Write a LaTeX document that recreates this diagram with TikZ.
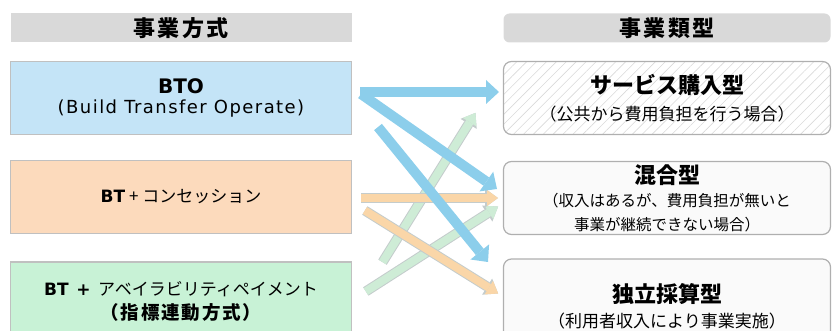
\documentclass[tikz,border=0pt]{standalone}
\usepackage{fontspec}
\setmainfont{Noto Sans CJK JP}
\newfontfamily\latinfont{DejaVu Sans}
\newfontfamily\widelatin[LetterSpace=8]{DejaVu Sans}
\newfontfamily\widecjk[LetterSpace=10]{Noto Sans CJK JP}
\usetikzlibrary{arrows.meta,patterns.meta}

\definecolor{hdrgray}{RGB}{217,217,217}
\definecolor{edgegray}{RGB}{192,192,192}
\definecolor{rimgray}{RGB}{175,175,175}
\definecolor{boxblue}{RGB}{196,228,247}
\definecolor{boxorange}{RGB}{252,218,188}
\definecolor{boxgreen}{RGB}{200,242,214}
\definecolor{arrowblue}{RGB}{140,206,235}
\definecolor{arroworange}{RGB}{250,214,168}
\definecolor{arrowgreen}{RGB}{206,236,214}
\definecolor{arrowrim}{RGB}{196,204,204}

\tikzset{
  header/.style={fill=hdrgray, minimum width=341pt, minimum height=29pt, inner sep=0pt,
    font=\widecjk\fontsize{22}{24}\selectfont\bfseries},
  leftbox/.style={draw=edgegray, line width=1.5pt, minimum width=341pt, minimum height=73pt,
    inner sep=0pt, align=center, font=\fontsize{17}{24}\selectfont},
  rightbox/.style={draw=rimgray, line width=1.2pt, rounded corners=8pt, fill=white,
    minimum width=327pt, minimum height=73pt, inner sep=0pt, align=center},
  bigflow/.style={draw=arrowblue, line width=10pt, -{Triangle[length=13pt,width=24pt,line width=0pt]}},
  thinflow/.style={draw=#1, line width=8pt, shorten >=1pt, shorten <=1pt,
    -{Triangle[length=11pt,width=16pt,line width=0pt]},
    preaction={draw=arrowrim, line width=10pt, -{Triangle[length=13pt,width=19pt,line width=0pt]}}},
}

\begin{document}
\begin{tikzpicture}[x=1pt,y=-1pt]
\clip (0,0) rectangle (832,331);

% headers
\node[header] (hleft) at (181,28) {事業方式};
\node[header, rounded corners=6pt, minimum width=327pt] (hright) at (667,28) {事業類型};

% business schemes
\node[leftbox, fill=boxblue, font=\fontsize{17}{20}\selectfont] (bto) at (181,98)
  {{\latinfont\fontsize{20}{20}\selectfont\bfseries BTO}\\{\widelatin\fontsize{18}{20}\selectfont (Build Transfer Operate)}};
\node[leftbox, fill=boxorange] (btc) at (181,197) {{\latinfont\bfseries BT} + コンセッション};
\node[leftbox, fill=boxgreen, minimum height=78pt] (bta) at (181,301)
  {{\latinfont\bfseries BT} \ {\latinfont\bfseries +} \ アベイラビリティペイメント\\{\widecjk\fontsize{18.5}{22}\selectfont\bfseries （指標連動方式）}};

% business types
\node[rightbox, pattern={Lines[angle=45,distance=7pt,line width=0.6pt]}, pattern color=gray!30,
  font=\fontsize{17}{27}\selectfont] (svc) at (667,98)
  {{\fontsize{22}{24}\selectfont\bfseries サービス購入型}\\（公共から費用負担を行う場合）};
\node[rightbox, fill=black!2, font=\fontsize{15.5}{23.5}\selectfont] (mix) at (667,198)
  {{\fontsize{22}{24}\selectfont\bfseries 混合型}\\（収入はあるが、費用負担が無いと\\事業が継続できない場合）};
\node[rightbox, fill=black!2, minimum height=94pt, font=\fontsize{17}{25}\selectfont] (ind) at (667,306)
  {{\fontsize{22}{24}\selectfont\bfseries 独立採算型}\\（利用者収入により事業実施）};

% arrow ends
\coordinate (b1s) at (360,92);  \coordinate (b1e) at (499,92);
\coordinate (b2s) at (361,94);  \coordinate (b2e) at (497,189);
\coordinate (b3s) at (378,127); \coordinate (b3e) at (488,262);
\coordinate (o1s) at (360,198); \coordinate (o1e) at (499,198);
\coordinate (o2s) at (364,210); \coordinate (o2e) at (499,294);
\coordinate (g1s) at (382,263); \coordinate (g1e) at (476,112);
\coordinate (g2s) at (365,292); \coordinate (g2e) at (499,206);

% arrows
\draw[thinflow=arrowgreen] (g1s) -- (g1e);
\draw[thinflow=arrowgreen] (g2s) -- (g2e);
\draw[thinflow=arroworange] (o1s) -- (o1e);
\draw[thinflow=arroworange] (o2s) -- (o2e);
\draw[bigflow] (b1s) -- (b1e);
\draw[bigflow] (b2s) -- (b2e);
\draw[bigflow] (b3s) -- (b3e);
\end{tikzpicture}
\end{document}
